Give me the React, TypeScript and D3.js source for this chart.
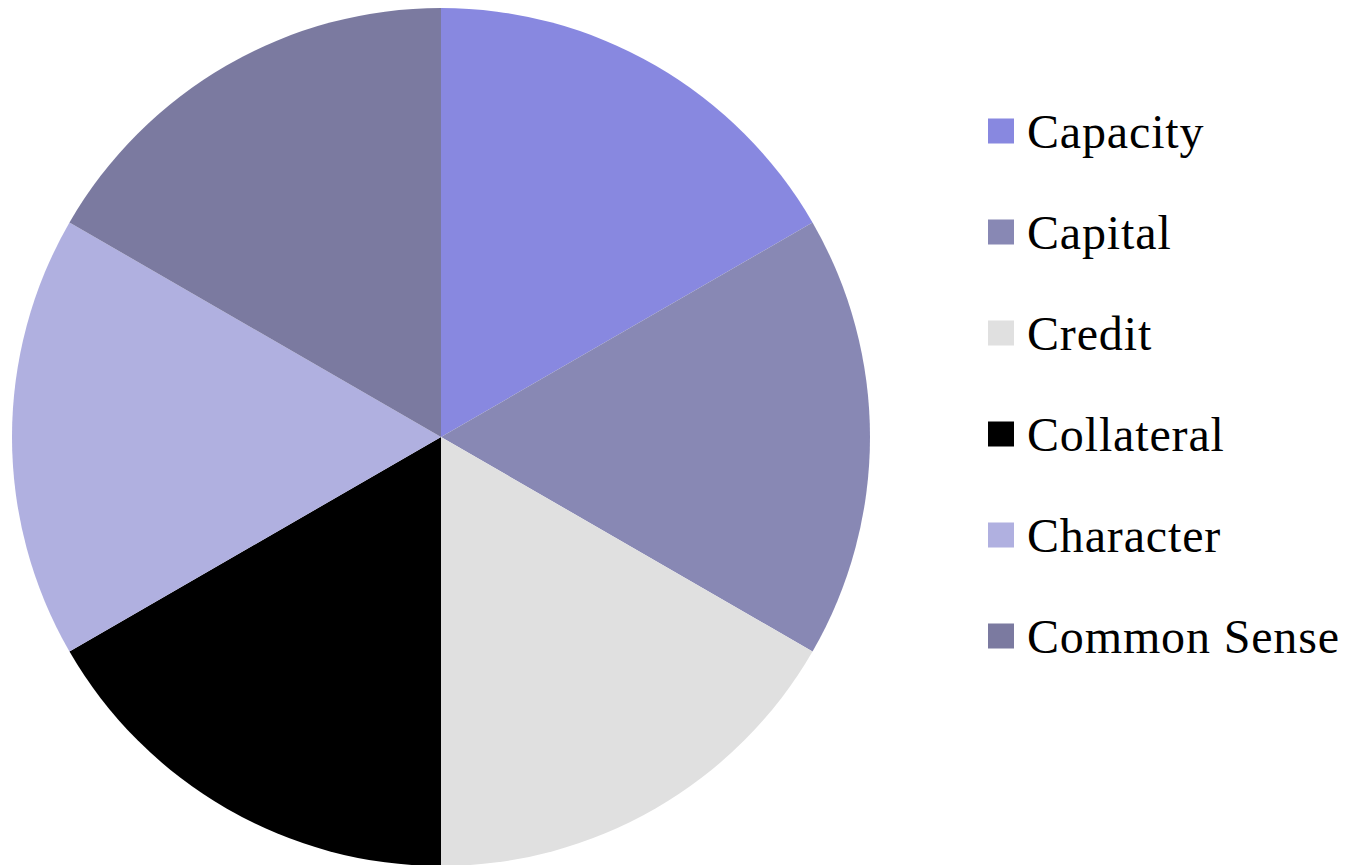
import React from "react";
import * as d3 from "d3";

const categories = ["Capacity", "Capital", "Credit", "Collateral", "Character", "Common Sense"];
const values = [1, 1, 1, 1, 1, 1];
const colors = ["#8888e0", "#8888b4", "#e0e0e0", "#000000", "#b0b0e0", "#7b7aa0"];

export default function App() {
  const W = 1347, H = 865;
  const cx = 441, cy = 437, r = 429;
  const pie = d3.pie<number>().sort(null).value((d) => d)(values);
  const arc = d3.arc<d3.PieArcDatum<number>>().innerRadius(0).outerRadius(r);
  const ly = d3.scalePoint<string>().domain(categories).range([131, 636]);
  return (
    <svg width={W} height={H} style={{ position: "absolute", left: 0, top: 0, background: "#fff" }}>
      <g transform={`translate(${cx},${cy})`}>
        {pie.map((p, i) => (
          <path key={i} d={arc(p) || ""} fill={colors[i]} />
        ))}
      </g>
      {categories.map((c, i) => (
        <g key={c} transform={`translate(988,${ly(c)})`}>
          <rect x={0} y={-12.5} width={26} height={25} fill={colors[i]} />
          <text x={39} y={0} dy="0.35em" fontFamily="'Liberation Serif', serif" fontSize={48} letterSpacing={0.85} fill="#000">
            {c}
          </text>
        </g>
      ))}
    </svg>
  );
}
